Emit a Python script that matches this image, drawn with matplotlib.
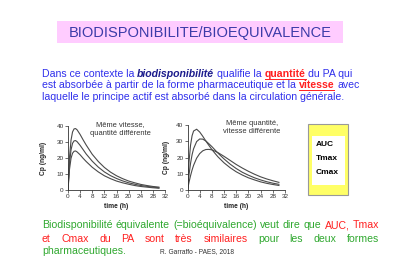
import matplotlib
matplotlib.use('Agg')
import matplotlib.pyplot as plt
from matplotlib.lines import Line2D
from matplotlib.patches import Rectangle

# ---------------- data ----------------
time_left = [0, 0.5, 1, 1.5, 2, 2.5, 3, 4, 5, 6, 8, 10, 12, 14, 16, 18, 20, 22, 24, 26, 28, 30]
left_high = [0, 20.6, 31.2, 36.3, 38.2, 38.4, 37.6, 34.7, 31.3, 28.1, 22.3, 17.8, 14.1, 11.2, 8.9, 7.1, 5.6, 4.5, 3.5, 2.8, 2.2, 1.8]
left_mid = [0, 16.5, 25.1, 29.2, 30.7, 30.9, 30.2, 27.9, 25.2, 22.5, 18.0, 14.3, 11.3, 9.0, 7.2, 5.7, 4.5, 3.6, 2.8, 2.3, 1.8, 1.4]
left_low = [0, 13.0, 19.8, 23.0, 24.2, 24.4, 23.8, 22.0, 19.8, 17.8, 14.2, 11.3, 8.9, 7.1, 5.6, 4.5, 3.6, 2.8, 2.2, 1.8, 1.4, 1.1]

time_right = [0, 0.5, 1, 1.5, 2, 3, 4, 5, 6, 7, 8, 9, 10, 12, 14, 16, 18, 20, 22, 24, 26, 28, 30]
right_fast = [0, 17.4, 27.6, 33.4, 36.3, 37.4, 35.7, 33.1, 30.2, 27.5, 24.9, 22.6, 20.4, 16.7, 13.7, 11.2, 9.2, 7.5, 6.2, 5.0, 4.1, 3.4, 2.8]
right_mid = [0, 9.4, 16.4, 21.7, 25.4, 29.8, 31.4, 31.3, 30.2, 28.5, 26.7, 24.7, 22.7, 19.1, 15.9, 13.2, 10.9, 9.1, 7.5, 6.2, 5.1, 4.2, 3.5]
right_slow = [0, 4.8, 8.8, 12.3, 15.2, 19.6, 22.4, 24.1, 24.9, 25.0, 24.7, 23.9, 23.0, 20.7, 18.2, 15.7, 13.5, 11.5, 9.7, 8.1, 6.8, 5.7, 4.7]

x_ticks = [0, 4, 8, 12, 16, 20, 24, 28, 32]
y_ticks = [0, 10, 20, 30, 40]
y_label = "Cp (ng/ml)"
x_label = "time (h)"
left_note = "Même vitesse,\nquantité différente"
right_note = "Même quantité,\nvitesse différente"
box_items = ["AUC", "Tmax", "Cmax"]
title = "BIODISPONIBILITE/BIOEQUIVALENCE"

# ---------------- figure ----------------
W, H = 400, 270
fig = plt.figure(figsize=(4, 2.7), dpi=100)
plt.rcParams['font.family'] = ['Liberation Sans', 'DejaVu Sans']
renderer = fig.canvas.get_renderer()


def fx(x):
    return x / W


def fy(y):
    return 1 - y / H


def ink(s, size, **kw):
    t = fig.text(0, 0, s, fontsize=size, **kw)
    w = t.get_window_extent(renderer).width
    t.remove()
    return w


def adv(s, size, **kw):
    # advance width of a string (including its spaces)
    return ink('|' + s + '|', size, **kw) - ink('||', size, **kw)


BLUE = '#3030EC'
NAVY = '#1C1C8C'
RED = '#FF2020'
GREEN = '#2FA82F'


def draw_runs(runs, x0, y, size):
    """runs: list of (text, style, underline); placed one after another."""
    x = x0
    for s, st, u in runs:
        a = adv(s, size, **st)
        lead = len(s) - len(s.lstrip(' '))
        xs = x + lead * adv(' ', size, **st)
        core = s.strip(' ')
        fig.text(fx(xs), fy(y), core, fontsize=size, va='baseline', ha='left', **st)
        if u:
            w = ink(core, size, **st)
            fig.add_artist(Line2D([fx(xs), fx(xs + w)], [fy(y + 1.6)] * 2,
                                  color=st.get('color'), lw=0.7))
        x += a


def runs_width(runs, size):
    return sum(adv(s, size, **st) for s, st, u in runs)


def draw_justified(words, x0, y, x1, size):
    widths = [ink(w, size, **st) for w, st in words]
    gap = (x1 - x0 - sum(widths)) / (len(words) - 1)
    x = x0
    for (w, st), wd in zip(words, widths):
        fig.text(fx(x), fy(y), w, fontsize=size, va='baseline', ha='left', **st)
        x += wd + gap


# title
fig.add_artist(Rectangle((fx(57), fy(43)), 286 / W, 22 / H, transform=fig.transFigure,
                         facecolor='#FFCCFF', edgecolor='none'))
ts = 10.0
tw = ink(title, ts)
ts = ts * 261 / tw
fig.text(fx(200), fy(32.5), title, fontsize=ts, color='#3B3BA8', ha='center', va='center')

# top paragraph
b = dict(color=BLUE)
line1 = [("Dans ce contexte la ", b, False),
         ("biodisponibilité", dict(color=NAVY, fontweight='bold', fontstyle='italic'), False),
         (" qualifie la ", b, False),
         ("quantité", dict(color=RED, fontweight='bold'), True),
         (" du PA qui", b, False)]
line2 = [("est absorbée à partir de la forme pharmaceutique et la ", b, False),
         ("vitesse", dict(color=RED, fontweight='bold'), True),
         (" avec", b, False)]
line3 = [("laquelle le principe actif est absorbé dans la circulation générale.", b, False)]
ps = 7.0
ps = ps * 316 / runs_width(line2, ps)
draw_runs(line1, 42, 77, ps)
draw_runs(line2, 42, 88.5, ps)
draw_runs(line3, 42, 99.8, ps)


# charts
def make_axes(rect_px, t, series, note, note_xy, ylabel_x):
    x0, y0, x1, y1 = rect_px
    ax = fig.add_axes([fx(x0), fy(y1), (x1 - x0) / W, (y1 - y0) / H])
    for s in series:
        ax.plot(t, s, color='#4a4a4a', lw=0.8)
    ax.set_xlim(0, 32)
    ax.set_ylim(0, 40)
    ax.set_xticks(x_ticks)
    ax.set_yticks(y_ticks)
    for sp in ['top', 'right']:
        ax.spines[sp].set_visible(False)
    for sp in ['left', 'bottom']:
        ax.spines[sp].set_linewidth(0.6)
        ax.spines[sp].set_color('#333333')
    ax.tick_params(labelsize=4.6, length=2, width=0.5, pad=1, colors='#333333')
    ax.set_xlabel(x_label, fontsize=4.8, fontweight='bold', color='#222222')
    ax.set_ylabel(y_label, fontsize=4.8, fontweight='bold', color='#222222')
    ax.xaxis.set_label_coords(0.5, -(203 - y1) / (y1 - y0))
    ax.yaxis.set_label_coords(-(x0 - ylabel_x) / (x1 - x0), 0.5)
    ax.patch.set_alpha(0)
    fig.text(fx(note_xy[0]), fy(note_xy[1]), note, fontsize=5.4, color='#333333',
             ha='center', va='center', linespacing=1.25)
    return ax


make_axes((68, 126, 165, 190), time_left, [left_high, left_mid, left_low],
          left_note, (120, 129), 47)
make_axes((187.5, 125, 285, 190), time_right, [right_fast, right_mid, right_slow],
          right_note, (252, 127.5), 170)

# yellow box
fig.add_artist(Rectangle((fx(308), fy(195)), 40 / W, 71 / H, transform=fig.transFigure,
                         facecolor='#FFFF66', edgecolor='#999999', lw=0.8))
fig.add_artist(Rectangle((fx(312), fy(185)), 33 / W, 49 / H, transform=fig.transFigure,
                         facecolor='white', edgecolor='none'))
for item, yy in zip(box_items, [144, 158.5, 173]):
    fig.text(fx(315.5), fy(yy), item, fontsize=6, fontweight='bold', color='black',
             ha='left', va='center')

# bottom paragraph
g = dict(color=GREEN)
r = dict(color=RED)


def words(s, st):
    return [(w, st) for w in s.split()]


bs = ps
bl1 = words("Biodisponibilité équivalente (=bioéquivalence) veut dire que", g) + words("AUC, Tmax", r)
bl2 = words("et Cmax du PA sont très similaires", r) + words("pour les deux formes", g)
draw_justified(bl1, 42, 228.5, 379, bs)
draw_justified(bl2, 42, 241.5, 379, bs)
fig.text(fx(42), fy(254.5), "pharmaceutiques.", fontsize=bs, color=GREEN, ha='left', va='baseline')
fig.text(fx(160), fy(253.5), "R. Garraffo - PAES, 2018", fontsize=4.8, color='#333333',
         ha='left', va='baseline')

fig.savefig('out.png', dpi=100)
